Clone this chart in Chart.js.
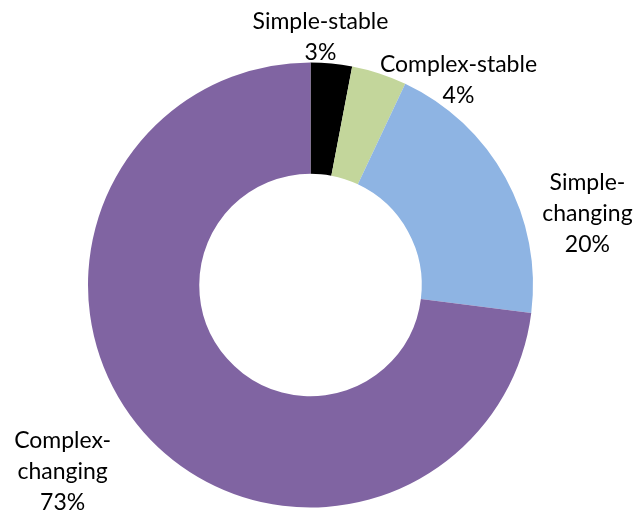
<!DOCTYPE html>
<html>
<head>
<meta charset="utf-8">
<script src="https://cdn.jsdelivr.net/npm/chart.js@4"></script>
<style>
  html, body { margin: 0; padding: 0; background: #fff; }
  #wrap { width: 633px; height: 516px; }
</style>
</head>
<body>
<div id="wrap"><canvas id="canvas"></canvas></div>
<script>
var categories = ["Simple-stable", "Complex-stable", "Simple-changing", "Complex-changing"];
var labelLines = [["Simple-stable"], ["Complex-stable"], ["Simple-", "changing"], ["Complex-", "changing"]];
var shares = [3, 4, 20, 73];
var colors = ["#000000", "#C3D69B", "#8EB4E3", "#8064A2"];

// where each label sits: angle clockwise from top (deg), distance as multiple of outer radius
var labelSpots = [[2.3, 1.115], [35.8, 1.137], [75.6, 1.285], [233.1, 1.393]];

var outsideLabels = {
  id: "outsideLabels",
  afterDatasetsDraw: function(chart) {
    var ctx = chart.ctx;
    var arc = chart.getDatasetMeta(0).data[0];
    var cx = arc.x, cy = arc.y, r = arc.outerRadius;
    ctx.save();
    ctx.font = "23px Lato";
    ctx.fillStyle = "#000";
    ctx.textAlign = "center";
    ctx.textBaseline = "middle";
    var lh = 31;
    for (var i = 0; i < shares.length; i++) {
      var a = labelSpots[i][0] * Math.PI / 180;
      var x = cx + Math.sin(a) * r * labelSpots[i][1];
      var y = cy - Math.cos(a) * r * labelSpots[i][1];
      var lines = labelLines[i].concat([shares[i] + "%"]);
      var y0 = y - (lines.length - 1) * lh / 2;
      for (var j = 0; j < lines.length; j++) {
        ctx.fillText(lines[j], x, y0 + j * lh);
      }
    }
    ctx.restore();
  }
};

var ctx = document.getElementById("canvas").getContext("2d");
new Chart(ctx, {
  type: "doughnut",
  data: {
    labels: categories,
    datasets: [{
      data: shares,
      backgroundColor: colors,
      borderWidth: 0
    }]
  },
  options: {
    responsive: true,
    maintainAspectRatio: false,
    animation: false,
    cutout: "50%",
    layout: { padding: { top: 62, bottom: 8, left: 88, right: 100 } },
    plugins: {
      legend: { display: false },
      tooltip: { enabled: false }
    }
  },
  plugins: [outsideLabels]
});
</script>
</body>
</html>
